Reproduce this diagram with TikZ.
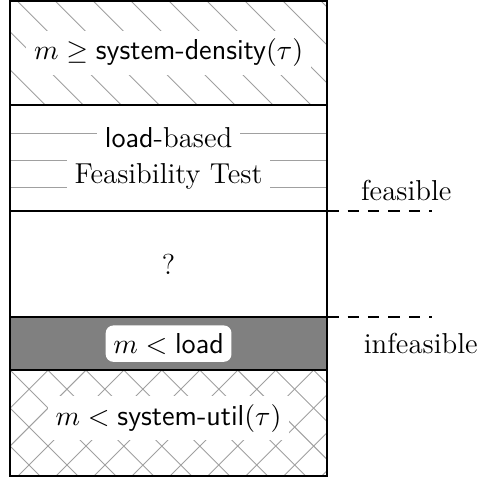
\documentclass[tikz,border=0pt]{standalone}
\usepackage{tikz}
\usepackage{amsmath}
\usepackage{xcolor}
\usetikzlibrary{positioning, calc}
\definecolor{hatchgray}{RGB}{160, 160, 160}
\definecolor{bandgray}{RGB}{128, 128, 128}

\begin{document}
\begin{tikzpicture}[
        rowline/.style={line width=0.8pt},
        hatch/.style={hatchgray, line width=0.35pt},
        label/.style={fill=white, inner sep=3pt},
        every node/.style={font=\fontsize{11.3pt}{13.6pt}\selectfont}]

        \useasboundingbox (-0.138,-0.028) rectangle (6.49,6.56);

        % Row boundaries
        \coordinate (r0) at (0,0);
        \coordinate (r1) at (0,1.46);
        \coordinate (r2) at (0,2.19);
        \coordinate (r3) at (0,3.65);
        \coordinate (r4) at (0,5.11);
        \coordinate (r5) at (0,6.55);

        % Dark band
        \fill[bandgray] (0,1.46) rectangle (4.37,2.19);

        % Diagonal lines (top row)
        \begin{scope}
          \clip (0,5.11) rectangle (4.37,6.55);
          \foreach \k in {-4,...,9}
            \draw[hatch] ({0.096+0.523*\k},6.55) -- ++(1.44,-1.44);
        \end{scope}

        % Horizontal lines (test row)
        \foreach \y in {4.727,4.355,3.983}
          \draw[hatch] (0,\y) -- (4.37,\y);

        % Crosshatch (bottom row)
        \begin{scope}
          \clip (0,0) rectangle (4.37,1.46);
          \foreach \k in {-4,...,10} {
            \draw[hatch] ({0.110+0.523*\k},0) -- ++(1.46,1.46);
            \draw[hatch] ({0.414+0.523*\k},0) -- ++(-1.46,1.46);
          }
        \end{scope}

        % Rows
        \foreach \a/\b in {r0/r1, r1/r2, r2/r3, r3/r4, r4/r5}
          \draw[rowline] (\a) rectangle ($(\b)+(4.37,0)$);

        % Texts
        \node[label] (density) at (2.185,5.83) {$m \geq \textsf{system-density}(\tau)$};
        \node[label] (loadbased) at (2.185,4.66) {\textsf{load}-based};
        \node[label] (test) at (2.185,4.13) {Feasibility Test};
        \node (unknown) at (2.185,2.92) {?};
        \node[label, rounded corners=3pt] (load) at (2.185,1.825) {$m < \textsf{load}$};
        \node[label] (util) at (2.185,0.80) {$m < \textsf{system-util}(\tau)$};

        % Limits
        \coordinate (feasA) at (4.37,3.65);
        \coordinate (feasB) at (5.815,3.65);
        \coordinate (infA) at (4.37,2.19);
        \coordinate (infB) at (5.815,2.19);
        \draw[rowline, dash pattern=on 4.5pt off 3.5pt] (feasA) -- (feasB);
        \draw[rowline, dash pattern=on 4.5pt off 3.5pt] (infA) -- (infB);
        \node (feasible) at (5.46,3.94) {feasible};
        \node (infeasible) at (5.66,1.83) {infeasible};

\end{tikzpicture}
\end{document}
